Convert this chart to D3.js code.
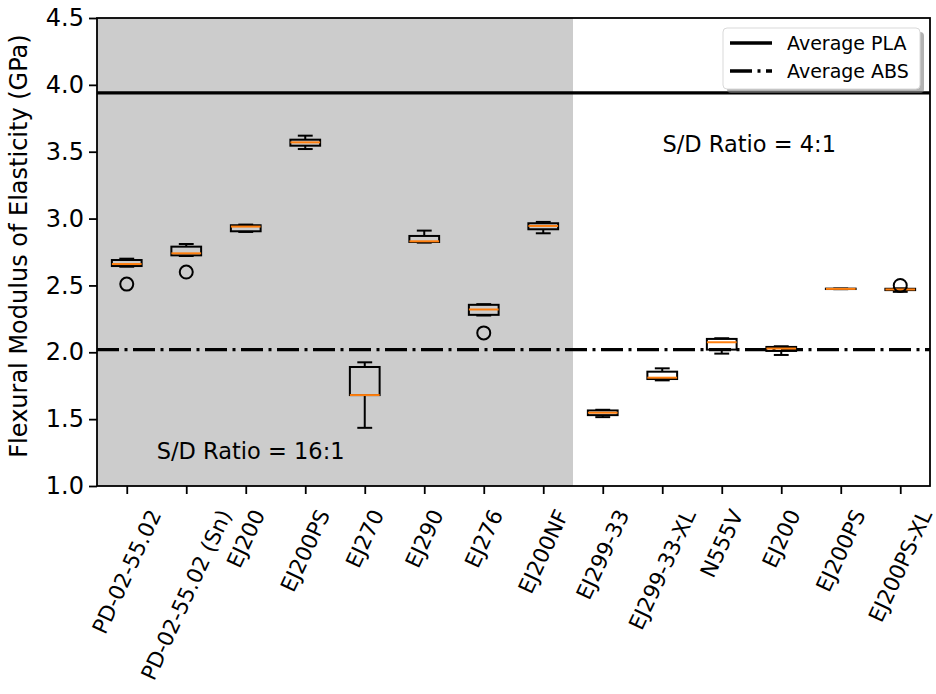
<!DOCTYPE html>
<html>
<head>
<meta charset="utf-8">
<script src="https://cdn.jsdelivr.net/npm/d3@7"></script>
<style>
  body { margin: 0; background: #fff; }
  text { font-family: "DejaVu Sans", sans-serif; fill: #000; }
</style>
</head>
<body>
<svg id="chart" width="936" height="694"></svg>
<script>
// Sample names, in plotting order
const labels = ['PD-02-55.02', 'PD-02-55.02 (Sn)', 'EJ200', 'EJ200PS', 'EJ270', 'EJ290', 'EJ276', 'EJ200NF',
                'EJ299-33', 'EJ299-33-XL', 'N555V', 'EJ200', 'EJ200PS', 'EJ200PS-XL']

// Box statistics (GPa)
const whiskLo = [2.64, 2.72, 2.90, 3.52, 1.435, 2.82, 2.275, 2.89, 1.515, 1.79, 1.99, 1.98, 2.472, 2.452]
const q1      = [2.645, 2.725, 2.905, 3.545, 1.68, 2.825, 2.28, 2.92, 1.53, 1.80, 2.02, 2.01, 2.473, 2.465]
const med     = [2.66, 2.74, 2.94, 3.57, 1.68, 2.83, 2.32, 2.945, 1.548, 1.81, 2.075, 2.028, 2.474, 2.47]
const q3      = [2.69, 2.79, 2.95, 3.59, 1.89, 2.87, 2.355, 2.965, 1.565, 1.855, 2.10, 2.04, 2.476, 2.475]
const whiskHi = [2.70, 2.81, 2.955, 3.62, 1.925, 2.91, 2.36, 2.975, 1.57, 1.88, 2.105, 2.045, 2.477, 2.478]
const fliers  = [[2.51], [2.60], [], [], [], [], [2.145], [], [], [], [], [], [], [2.50]]

// Reference averages
const avgPLA = 3.94
const avgABS = 2.02

const yTicks = [1.0, 1.5, 2.0, 2.5, 3.0, 3.5, 4.0, 4.5]
const spanEnd = 8.5   // last 16:1 sample boundary

const svg = d3.select('#chart')
const margin = { left: 97, top: 18, right: 6, bottom: 208 }
const W = 936, H = 694

const x = d3.scaleLinear().domain([0.5, labels.length + 0.5]).range([margin.left, W - margin.right])
const y = d3.scaleLinear().domain([1.0, 4.5]).range([H - margin.bottom, margin.top])
const unit = x(1) - x(0)

const boxes = labels.map((name, i) => ({
    pos: i + 1, name,
    lo: whiskLo[i], q1: q1[i], med: med[i], q3: q3[i], hi: whiskHi[i], fliers: fliers[i]
}))

// Grey background for the 16:1 samples
svg.append('rect')
    .attr('x', x(0.5)).attr('y', y(4.5))
    .attr('width', x(spanEnd) - x(0.5)).attr('height', y(1.0) - y(4.5))
    .attr('fill', '#cccccc')

// Average lines
const ABS_DASH = '22,5.5,3,5.5'
svg.append('line').attr('x1', x(0.5)).attr('x2', x(labels.length + 0.5))
    .attr('y1', y(avgPLA)).attr('y2', y(avgPLA))
    .attr('stroke', '#000').attr('stroke-width', 3.4)
svg.append('line').attr('x1', x(0.5)).attr('x2', x(labels.length + 0.5))
    .attr('y1', y(avgABS)).attr('y2', y(avgABS))
    .attr('stroke', '#000').attr('stroke-width', 3.4).attr('stroke-dasharray', ABS_DASH)

// Box plots
const boxW = unit * 0.5
const capW = unit * 0.25
const g = svg.append('g').selectAll('g').data(boxes).join('g')

g.append('line') // lower whisker
    .attr('x1', d => x(d.pos)).attr('x2', d => x(d.pos))
    .attr('y1', d => y(d.q1)).attr('y2', d => y(d.lo))
    .attr('stroke', '#000').attr('stroke-width', 2)
g.append('line') // upper whisker
    .attr('x1', d => x(d.pos)).attr('x2', d => x(d.pos))
    .attr('y1', d => y(d.q3)).attr('y2', d => y(d.hi))
    .attr('stroke', '#000').attr('stroke-width', 2)
g.append('line') // caps
    .attr('x1', d => x(d.pos) - capW / 2).attr('x2', d => x(d.pos) + capW / 2)
    .attr('y1', d => y(d.lo)).attr('y2', d => y(d.lo))
    .attr('stroke', '#000').attr('stroke-width', 2)
g.append('line')
    .attr('x1', d => x(d.pos) - capW / 2).attr('x2', d => x(d.pos) + capW / 2)
    .attr('y1', d => y(d.hi)).attr('y2', d => y(d.hi))
    .attr('stroke', '#000').attr('stroke-width', 2)
g.append('rect')
    .attr('x', d => x(d.pos) - boxW / 2).attr('width', boxW)
    .attr('y', d => y(d.q3)).attr('height', d => y(d.q1) - y(d.q3))
    .attr('fill', 'none').attr('stroke', '#000').attr('stroke-width', 2)
g.append('line') // median
    .attr('x1', d => x(d.pos) - boxW / 2).attr('x2', d => x(d.pos) + boxW / 2)
    .attr('y1', d => y(d.med)).attr('y2', d => y(d.med))
    .attr('stroke', '#ff7f0e').attr('stroke-width', 2)
g.selectAll('circle').data(d => d.fliers.map(v => ({ pos: d.pos, v }))).join('circle')
    .attr('cx', d => x(d.pos)).attr('cy', d => y(d.v)).attr('r', 6.5)
    .attr('fill', 'none').attr('stroke', '#000').attr('stroke-width', 2)

// Annotations
svg.append('text').attr('x', x(1.0) + 30).attr('y', y(1.2))
    .attr('font-size', 22.5).text('S/D Ratio = 16:1')
svg.append('text').attr('x', x(9.5) + 30).attr('y', y(3.5))
    .attr('font-size', 22.5).text('S/D Ratio = 4:1')

// Axes
const yAxis = svg.append('g').attr('transform', `translate(${margin.left},0)`)
    .call(d3.axisLeft(y).tickValues(yTicks).tickFormat(d3.format('.1f')).tickSize(8).tickPadding(5))
yAxis.selectAll('text').attr('font-size', 24).attr('font-family', 'DejaVu Sans')

const xAxis = svg.append('g').attr('transform', `translate(0,${H - margin.bottom})`)
    .call(d3.axisBottom(x).tickValues(boxes.map(b => b.pos)).tickFormat('').tickSize(8))

svg.selectAll('.domain').remove()
svg.selectAll('.tick line').attr('stroke-width', 1.8)

// Rotated x labels, bounding box centred under the tick
const ROT = 65
const cosR = Math.cos(ROT * Math.PI / 180)
const xl = svg.append('g').selectAll('text').data(boxes).join('text')
    .attr('font-size', 21.5)
    .attr('text-anchor', 'end')
    .attr('dominant-baseline', 'central')
    .text(d => d.name)
xl.attr('transform', function (d) {
    const L = this.getComputedTextLength()
    return `translate(${x(d.pos) + 0.5 * L * cosR},${H - margin.bottom + 25}) rotate(${-ROT})`
})

// Frame
svg.append('rect')
    .attr('x', x(0.5)).attr('y', y(4.5))
    .attr('width', x(labels.length + 0.5) - x(0.5)).attr('height', y(1.0) - y(4.5))
    .attr('fill', 'none').attr('stroke', '#000').attr('stroke-width', 1.8)

// Y label
svg.append('text')
    .attr('transform', `translate(27,${(y(1.0) + y(4.5)) / 2 - 6}) rotate(-90)`)
    .attr('text-anchor', 'middle').attr('font-size', 24)
    .text('Flexural Modulus of Elasticity (GPa)')

// Legend with shadow
const lg = svg.append('g').attr('transform', 'translate(723,28)')
lg.append('rect').attr('x', 4).attr('y', 4).attr('width', 197).attr('height', 61).attr('rx', 4)
    .attr('fill', '#7f7f7f').attr('opacity', 0.6)
lg.append('rect').attr('width', 197).attr('height', 61).attr('rx', 4)
    .attr('fill', '#fff').attr('stroke', '#d9d9d9').attr('stroke-width', 1)
const legendItems = [{ name: 'Average PLA', dash: null }, { name: 'Average ABS', dash: ABS_DASH }]
legendItems.forEach((it, i) => {
    const ly = 15 + i * 28
    lg.append('line').attr('x1', 7).attr('x2', 49).attr('y1', ly).attr('y2', ly)
        .attr('stroke', '#000').attr('stroke-width', 3.4).attr('stroke-dasharray', it.dash)
    lg.append('text').attr('x', 64).attr('y', ly).attr('dominant-baseline', 'central')
        .attr('font-size', 19).text(it.name)
})
</script>
</body>
</html>
